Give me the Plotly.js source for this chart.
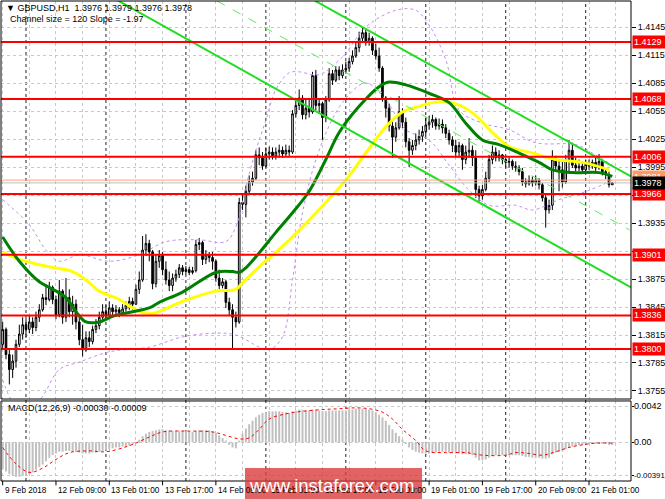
<!DOCTYPE html>
<html><head><meta charset="utf-8">
<script src="https://cdn.plot.ly/plotly-3.0.1.min.js"></script>
<style>html,body{margin:0;padding:0;background:#fff}#chart{width:665px;height:499px}</style>
</head><body><div id="chart"></div>
<script>
const symbol = 'GBPUSD,H1';
const channelInfo = 'Channel size = 120 Slope = -1.97';
const macdName = 'MACD(12,26,9)';

const open = [1.3805,1.3821,1.3794,1.3778,1.3787,1.3805,1.3816,1.3826,1.3821,1.3829,
1.3823,1.3834,1.3842,1.3855,1.3853,1.3866,1.3853,1.3837,1.3862,1.3834,
1.3855,1.3840,1.3848,1.3829,1.3810,1.3799,1.3812,1.3808,1.3821,1.3825,
1.3834,1.3840,1.3836,1.3844,1.3840,1.3842,1.3839,1.3843,1.3847,1.3851,
1.3848,1.3864,1.3874,1.3906,1.3913,1.3904,1.3870,1.3894,1.3900,1.3885,
1.3874,1.3868,1.3876,1.3880,1.3887,1.3883,1.3885,1.3882,1.3884,1.3912,
1.3914,1.3896,1.3901,1.3898,1.3894,1.3876,1.3868,1.3872,1.3850,1.3842,
1.3834,1.3829,1.3957,1.3955,1.3969,1.3979,1.3983,1.4008,1.4005,1.3996,
1.4009,1.4011,1.4007,1.4011,1.4013,1.4009,1.4013,1.4011,1.4052,1.4061,
1.4069,1.4051,1.4058,1.4054,1.4093,1.4061,1.4063,1.4048,1.4067,1.4095,
1.4088,1.4099,1.4093,1.4099,1.4101,1.4108,1.4114,1.4123,1.4133,1.4139,
1.4129,1.4133,1.4120,1.4114,1.4101,1.4069,1.4058,1.4039,1.4027,1.4037,
1.4054,1.4043,1.4022,1.4013,1.4018,1.4024,1.4028,1.4033,1.4040,1.4043,
1.4046,1.4039,1.4041,1.4037,1.4031,1.4024,1.4018,1.4011,1.4018,1.4003,
1.4011,1.4013,1.4005,1.3971,1.3964,1.3971,1.3983,1.4003,1.4011,1.4005,
1.4008,1.4003,1.4000,1.4001,1.3996,1.3994,1.3990,1.3979,1.3977,1.3981,
1.3978,1.3981,1.3976,1.3962,1.3949,1.3954,1.4003,1.3996,1.3992,1.3979,
1.4003,1.4013,1.3997,1.3994,1.3996,1.3992,1.3998,1.3996,1.4000,1.3994,
1.4001,1.3990,1.3987,1.3976];
const high = [1.3829,1.3823,1.3799,1.3794,1.3810,1.3826,1.3834,1.3832,1.3836,1.3834,
1.3840,1.3848,1.3859,1.3869,1.3872,1.3868,1.3857,1.3874,1.3864,1.3876,
1.3864,1.3857,1.3853,1.3834,1.3826,1.3819,1.3819,1.3825,1.3832,1.3840,
1.3848,1.3847,1.3851,1.3848,1.3847,1.3845,1.3848,1.3851,1.3856,1.3855,
1.3869,1.3883,1.3921,1.3923,1.3917,1.3906,1.3901,1.3906,1.3904,1.3894,
1.3883,1.3881,1.3885,1.3891,1.3890,1.3889,1.3888,1.3888,1.3917,1.3919,
1.3916,1.3906,1.3904,1.3904,1.3896,1.3885,1.3876,1.3874,1.3855,1.3848,
1.3840,1.3962,1.3965,1.3975,1.3986,1.3990,1.4013,1.4016,1.4011,1.4016,
1.4017,1.4016,1.4016,1.4019,1.4017,1.4019,1.4018,1.4056,1.4067,1.4078,
1.4072,1.4067,1.4069,1.4097,1.4099,1.4067,1.4065,1.4071,1.4101,1.4099,
1.4103,1.4103,1.4105,1.4108,1.4112,1.4120,1.4129,1.4140,1.4145,1.4142,
1.4139,1.4135,1.4127,1.4123,1.4103,1.4071,1.4063,1.4046,1.4043,1.4071,
1.4058,1.4048,1.4026,1.4024,1.4031,1.4035,1.4039,1.4048,1.4050,1.4051,
1.4048,1.4047,1.4046,1.4041,1.4035,1.4028,1.4024,1.4022,1.4020,1.4018,
1.4026,1.4018,1.4013,1.3975,1.3976,1.3990,1.4008,1.4018,1.4016,1.4013,
1.4009,1.4005,1.4005,1.4003,1.4001,1.3997,1.3994,1.3983,1.3986,1.3985,
1.3986,1.3983,1.3978,1.3965,1.3960,1.4013,1.4007,1.4003,1.4001,1.4008,
1.4024,1.4021,1.4005,1.4003,1.4000,1.4003,1.4003,1.4003,1.4005,1.4009,
1.4003,1.3994,1.3990,1.3979];
const low = [1.3799,1.3789,1.3762,1.3769,1.3780,1.3802,1.3810,1.3812,1.3817,1.3816,
1.3819,1.3829,1.3840,1.3847,1.3851,1.3848,1.3832,1.3834,1.3827,1.3829,
1.3834,1.3826,1.3821,1.3804,1.3792,1.3797,1.3802,1.3805,1.3817,1.3821,
1.3829,1.3832,1.3834,1.3836,1.3836,1.3834,1.3837,1.3840,1.3842,1.3842,
1.3847,1.3859,1.3872,1.3900,1.3894,1.3864,1.3866,1.3887,1.3879,1.3869,
1.3862,1.3862,1.3872,1.3876,1.3879,1.3880,1.3879,1.3880,1.3882,1.3906,
1.3890,1.3891,1.3893,1.3885,1.3872,1.3864,1.3865,1.3844,1.3836,1.3799,
1.3823,1.3827,1.3949,1.3941,1.3966,1.3975,1.3981,1.3997,1.3992,1.3994,
1.4003,1.4003,1.4003,1.4005,1.4005,1.4007,1.4007,1.4009,1.4048,1.4056,
1.4046,1.4046,1.4048,1.4052,1.4056,1.4052,1.4024,1.4043,1.4065,1.4083,
1.4086,1.4088,1.4090,1.4095,1.4097,1.4105,1.4112,1.4118,1.4129,1.4125,
1.4125,1.4115,1.4110,1.4097,1.4065,1.4048,1.4033,1.4005,1.4022,1.4035,
1.4037,1.4016,1.3995,1.4008,1.4013,1.4019,1.4022,1.4028,1.4035,1.4037,
1.4035,1.4035,1.4031,1.4026,1.4019,1.4011,1.4005,1.4005,1.3992,1.3998,
1.4005,1.3996,1.3962,1.3958,1.3960,1.3969,1.3979,1.3998,1.4001,1.4001,
1.3998,1.3994,1.3994,1.3992,1.3990,1.3986,1.3975,1.3973,1.3975,1.3974,
1.3975,1.3971,1.3958,1.3930,1.3945,1.3949,1.3990,1.3969,1.3973,1.3977,
1.3990,1.3994,1.3990,1.3990,1.3988,1.3990,1.3992,1.3993,1.3990,1.3992,
1.3986,1.3982,1.3973,1.3976];
const close = [1.3821,1.3794,1.3778,1.3787,1.3805,1.3816,1.3826,1.3821,1.3829,1.3823,
1.3834,1.3842,1.3855,1.3853,1.3866,1.3853,1.3837,1.3862,1.3834,1.3855,
1.3840,1.3848,1.3829,1.3810,1.3799,1.3812,1.3808,1.3821,1.3825,1.3834,
1.3840,1.3836,1.3844,1.3840,1.3842,1.3839,1.3843,1.3847,1.3851,1.3848,
1.3864,1.3874,1.3906,1.3913,1.3904,1.3870,1.3894,1.3900,1.3885,1.3874,
1.3868,1.3876,1.3880,1.3887,1.3883,1.3885,1.3882,1.3884,1.3912,1.3914,
1.3896,1.3901,1.3898,1.3894,1.3876,1.3868,1.3872,1.3850,1.3842,1.3834,
1.3829,1.3957,1.3955,1.3969,1.3979,1.3983,1.4008,1.4005,1.3996,1.4009,
1.4011,1.4007,1.4011,1.4013,1.4009,1.4013,1.4011,1.4052,1.4061,1.4069,
1.4051,1.4058,1.4054,1.4093,1.4061,1.4063,1.4048,1.4067,1.4095,1.4088,
1.4099,1.4093,1.4099,1.4101,1.4108,1.4114,1.4123,1.4133,1.4139,1.4129,
1.4133,1.4120,1.4114,1.4101,1.4069,1.4058,1.4039,1.4027,1.4037,1.4054,
1.4043,1.4022,1.4013,1.4018,1.4024,1.4028,1.4033,1.4040,1.4043,1.4046,
1.4039,1.4041,1.4037,1.4031,1.4024,1.4018,1.4011,1.4018,1.4003,1.4011,
1.4013,1.4005,1.3971,1.3964,1.3971,1.3983,1.4003,1.4011,1.4005,1.4008,
1.4003,1.4000,1.4001,1.3996,1.3994,1.3990,1.3979,1.3977,1.3981,1.3978,
1.3981,1.3976,1.3962,1.3949,1.3954,1.4003,1.3996,1.3992,1.3979,1.4003,
1.4013,1.3997,1.3994,1.3996,1.3992,1.3998,1.3996,1.4000,1.3994,1.4001,
1.3990,1.3987,1.3976,1.3978];

// moving averages (bar index, price)
const maGreenX = [0,5,11,14,19,22,25,29,33,39,44,47,54,64,69,71,73,77,82,87,92,97,101,107,113,116,121,128,134,139,144,149,155,161,165,171,179,183];
const maGreenY = [1.3920,1.3894,1.3872,1.3866,1.3855,1.3840,1.3829,1.3829,1.3835,1.3840,1.3844,1.3850,1.3861,1.3882,1.3883,1.3882,1.3887,1.3903,1.3925,1.3946,1.3969,1.4003,1.4032,1.4060,1.4081,1.4086,1.4083,1.4074,1.4064,1.4042,1.4024,1.4019,1.4010,1.4000,1.3992,1.3989,1.3989,1.3985];
const maYellowX = [0,5,14,21,25,29,35,39,42,45,54,64,70,72,77,84,93,103,109,115,120,125,129,135,141,147,152,159,166,174,182];
const maYellowY = [1.3904,1.3896,1.3888,1.3883,1.3874,1.3862,1.3853,1.3844,1.3839,1.3838,1.3851,1.3862,1.3864,1.3871,1.3888,1.3910,1.3942,1.3981,1.4010,1.4038,1.4054,1.4060,1.4064,1.4064,1.4053,1.4032,1.4017,1.4010,1.4003,1.4000,1.3992];

// Bollinger envelopes
const bbUpX = [0,8,13,17,23,32,41,49,59,67,70,73,76,79,82,86,89,95,102,109,118,124,128,133,137,144,152,160,172,177,183];
const bbUpY = [1.3960,1.3933,1.3906,1.3894,1.3901,1.3894,1.3901,1.3915,1.3917,1.3915,1.3931,1.3974,1.4013,1.4045,1.4078,1.4096,1.4097,1.4094,1.4113,1.4145,1.4163,1.4163,1.4147,1.4110,1.4056,1.4042,1.4035,1.4021,1.4019,1.4010,1.3997];
const bbLoX = [0,5,11,17,23,32,44,54,64,70,77,80,84,87,90,95,102,109,115,121,128,134,140,146,154,159,167,176,183];
const bbLoY = [1.3767,1.3735,1.3745,1.3778,1.3786,1.3797,1.3802,1.3813,1.3817,1.3815,1.3802,1.3799,1.3813,1.3874,1.3946,1.4013,1.4064,1.4085,1.4067,1.4035,1.4024,1.3997,1.3970,1.3954,1.3954,1.3949,1.3960,1.3970,1.3981];

// regression channel (start bar/price, end bar/price)
const chanUpper = {x:[93.8,188.6], y:[1.4173,1.3985]};
const chanMiddle = {x:[64.3,188.2], y:[1.4173,1.39275]};
const chanLower = {x:[34.3,188.6], y:[1.4174,1.3866]};

const levels = [1.4129,1.4068,1.4006,1.3966,1.3901,1.3836,1.3800];
const askPrice = 1.3981;
const bidPrice = 1.3978;
const priceTicks = [1.4145,1.4115,1.4085,1.4055,1.4025,1.3995,1.3965,1.3935,1.3905,1.3875,1.3845,1.3815,1.3785,1.3755];
const hiddenTicks = [1.3965,1.3905]; // covered by level labels in the reference

const macdHist = [-0.0031,-0.0034,-0.0037,-0.0039,-0.0040,-0.0040,-0.0039,-0.0039,-0.0037,-0.0035,
-0.0032,-0.0029,-0.0026,-0.0022,-0.0018,-0.0015,-0.0013,-0.0011,-0.0011,-0.0010,
-0.0010,-0.0011,-0.0011,-0.0012,-0.0013,-0.0013,-0.0013,-0.0012,-0.0012,-0.0011,
-0.0010,-0.0009,-0.0008,-0.0007,-0.0006,-0.0006,-0.0005,-0.0005,-0.0004,-0.0002,
0.0000,0.0003,0.0007,0.0010,0.0012,0.0013,0.0014,0.0015,0.0015,0.0014,
0.0014,0.0013,0.0013,0.0013,0.0013,0.0013,0.0013,0.0012,0.0013,0.0014,
0.0014,0.0014,0.0014,0.0013,0.0011,0.0008,0.0005,0.0002,-0.0003,-0.0006,
-0.0007,0.0002,0.0010,0.0016,0.0021,0.0025,0.0029,0.0032,0.0034,0.0035,
0.0036,0.0036,0.0036,0.0036,0.0035,0.0035,0.0034,0.0036,0.0037,0.0038,
0.0038,0.0037,0.0037,0.0038,0.0038,0.0037,0.0036,0.0036,0.0037,0.0037,
0.0037,0.0037,0.0037,0.0037,0.0038,0.0038,0.0039,0.0039,0.0039,0.0039,
0.0038,0.0037,0.0035,0.0032,0.0029,0.0025,0.0020,0.0015,0.0011,0.0007,
0.0003,-0.0002,-0.0006,-0.0009,-0.0011,-0.0012,-0.0013,-0.0013,-0.0013,-0.0012,
-0.0012,-0.0011,-0.0011,-0.0011,-0.0012,-0.0012,-0.0013,-0.0013,-0.0014,-0.0014,
-0.0014,-0.0015,-0.0018,-0.0021,-0.0021,-0.0020,-0.0018,-0.0016,-0.0015,-0.0015,
-0.0015,-0.0015,-0.0015,-0.0015,-0.0015,-0.0015,-0.0016,-0.0017,-0.0017,-0.0018,
-0.0018,-0.0018,-0.0019,-0.0019,-0.0018,-0.0014,-0.0012,-0.0011,-0.0010,-0.0008,
-0.0006,-0.0005,-0.0004,-0.0003,-0.0003,-0.0002,-0.0002,-0.0002,-0.0002,-0.0002,
-0.0002,-0.0002,-0.0003,-0.0003];
const sigX = [0,4,8,12,16,20,26,31,38,44,48,56,63,67,71,74,77,80,85,90,96,101,106,110,114,117,120,124,127,133,139,144,151,154,158,162,166,170,174,178,183];
const sigY = [-0.0006,-0.0025,-0.0035,-0.0030,-0.0020,-0.0012,-0.0010,-0.0011,-0.0004,0.0006,0.0012,0.0013,0.0012,0.0008,0.0004,0.0005,0.0015,0.0027,0.0033,0.0036,0.0038,0.0039,0.0040,0.0039,0.0035,0.0027,0.0015,0.0002,-0.0010,-0.0012,-0.0012,-0.0015,-0.0015,-0.0012,-0.0013,-0.0015,-0.0011,-0.0006,-0.0003,-0.0001,-0.00009];
const macdTicks = [0.0042,0,-0.00391];
const macdTickText = ['0.0042','0.00','-0.00391'];
const macdTickSize = [9,9,7.8];

const xLabelBars = [0,16,32,48,64,80,96,112,128,144,160,176];
const xLabels = ['9 Feb 2018','12 Feb 09:00','13 Feb 01:00','13 Feb 17:00','14 Feb 09:00','15 Feb 01:00','15 Feb 17:00','16 Feb 09:00','19 Feb 01:00','19 Feb 17:00','20 Feb 09:00','21 Feb 01:00'];
const daySeparators = [7,31,55,79,103,127,151,175];
const gridBars = [0,8,16,24,32,40,48,56,64,72,80,88,96,104,112,120,128,136,144,152,160,168,176,184];

const FONT = 'Liberation Sans, Arial, DejaVu Sans, sans-serif';
const bars = open.map((_, i) => i);
const mainDom = [0.1708, 1];
const macdDom = [0, 0.1667];

const traces = [
  {type:'candlestick', x:bars, open:open, high:high, low:low, close:close, xaxis:'x', yaxis:'y',
   increasing:{line:{color:'#000000', width:1}, fillcolor:'#ffffff'},
   decreasing:{line:{color:'#000000', width:1}, fillcolor:'#000000'},
   whiskerwidth:0, hoverinfo:'skip', showlegend:false},
  {type:'scatter', mode:'lines', x:bbUpX, y:bbUpY, line:{color:'#c58cf0', width:1, dash:'dot', shape:'spline'}, xaxis:'x', yaxis:'y', hoverinfo:'skip', showlegend:false},
  {type:'scatter', mode:'lines', x:bbLoX, y:bbLoY, line:{color:'#c58cf0', width:1, dash:'dot', shape:'spline'}, xaxis:'x', yaxis:'y', hoverinfo:'skip', showlegend:false},
  {type:'scatter', mode:'lines', x:maYellowX, y:maYellowY, line:{color:'#ffff00', width:3, shape:'spline'}, xaxis:'x', yaxis:'y', hoverinfo:'skip', showlegend:false},
  {type:'scatter', mode:'lines', x:maGreenX, y:maGreenY, line:{color:'#008000', width:3, shape:'spline'}, xaxis:'x', yaxis:'y', hoverinfo:'skip', showlegend:false},
  {type:'scatter', mode:'lines', x:chanUpper.x, y:chanUpper.y, line:{color:'#22dd22', width:2}, xaxis:'x', yaxis:'y', hoverinfo:'skip', showlegend:false},
  {type:'scatter', mode:'lines', x:chanMiddle.x, y:chanMiddle.y, line:{color:'#55ee55', width:1, dash:'dash'}, xaxis:'x', yaxis:'y', hoverinfo:'skip', showlegend:false},
  {type:'scatter', mode:'lines', x:chanLower.x, y:chanLower.y, line:{color:'#22dd22', width:2}, xaxis:'x', yaxis:'y', hoverinfo:'skip', showlegend:false},
  {type:'bar', x:bars, y:macdHist, marker:{color:'#c0c0c0', line:{width:0}}, xaxis:'x', yaxis:'y2', hoverinfo:'skip', showlegend:false},
  {type:'scatter', mode:'lines', x:sigX, y:sigY, line:{color:'#ff0000', width:1, dash:'dot', shape:'spline'}, xaxis:'x', yaxis:'y2', hoverinfo:'skip', showlegend:false}
];

const shapes = [];
daySeparators.forEach(b => shapes.push({type:'line', xref:'x', yref:'paper', x0:b, x1:b, y0:0, y1:1, layer:'below', line:{color:'#222222', width:1, dash:'dot'}}));
levels.forEach(l => shapes.push({type:'line', xref:'paper', yref:'y', x0:0, x1:1, y0:l, y1:l, line:{color:'#ff0000', width:2}}));
shapes.push({type:'line', xref:'paper', yref:'y', x0:0, x1:1, y0:askPrice, y1:askPrice, line:{color:'#ffa07a', width:1}});
shapes.push({type:'line', xref:'paper', yref:'y', x0:0, x1:1, y0:bidPrice, y1:bidPrice, line:{color:'#c0c0c0', width:1}});
xLabelBars.forEach(b => shapes.push({type:'line', xref:'x', yref:'paper', x0:b, x1:b, y0:0, y1:-0.009, line:{color:'#000', width:1}}));
shapes.push({type:'rect', xref:'paper', yref:'paper', x0:0, x1:1, y0:mainDom[0], y1:mainDom[1], line:{color:'#000', width:1}, fillcolor:'rgba(0,0,0,0)'});
shapes.push({type:'rect', xref:'paper', yref:'paper', x0:0, x1:1, y0:macdDom[0], y1:macdDom[1], line:{color:'#000', width:1}, fillcolor:'rgba(0,0,0,0)'});
// watermark box
shapes.push({type:'rect', xref:'paper', yref:'paper', x0:0.3873, x1:0.6683, y0:-0.0375, y1:0.027, line:{width:0}, fillcolor:'rgba(218,60,60,0.8)'});

const annotations = [];
const last = open.length - 1;
annotations.push({xref:'paper', yref:'paper', x:0.005, y:0.985, xanchor:'left', yanchor:'middle', showarrow:false,
  text:'\u25BC ' + symbol + '  ' + open[last].toFixed(4) + ' ' + high[last].toFixed(4) + ' ' + low[last].toFixed(4) + ' ' + close[last].toFixed(4),
  font:{family:FONT, size:9, color:'#000'}});
annotations.push({xref:'paper', yref:'paper', x:0.011, y:0.9625, xanchor:'left', yanchor:'middle', showarrow:false,
  text:channelInfo, font:{family:FONT, size:9, color:'#000'}});
annotations.push({xref:'paper', yref:'paper', x:0.008, y:0.152, xanchor:'left', yanchor:'middle', showarrow:false,
  text:macdName + ' ' + macdHist[last].toFixed(5) + ' ' + sigY[sigY.length-1].toFixed(5), font:{family:FONT, size:9, color:'#000'}});
xLabelBars.forEach((b, i) => annotations.push({xref:'x', yref:'paper', x:b, y:-0.019, xanchor:'left', yanchor:'middle', xshift:0, showarrow:false,
  text:xLabels[i], font:{family:FONT, size:8.2, color:'#000'}}));
macdTicks.forEach((v, i) => annotations.push({xref:'paper', yref:'y2', x:1, y:v, xanchor:'left', yanchor:'middle', xshift:1, showarrow:false,
  text:macdTickText[i], font:{family:FONT, size:macdTickSize[i], color:'#000'}}));
levels.forEach(l => annotations.push({xref:'paper', yref:'y', x:1, y:l, xanchor:'left', yanchor:'middle', xshift:1, showarrow:false,
  text:l.toFixed(4), bgcolor:'#ff0000', borderpad:1, width:31, align:'left', font:{family:FONT, size:9, color:'#ffffff'}}));
annotations.push({xref:'paper', yref:'y', x:1, y:askPrice, xanchor:'left', yanchor:'middle', xshift:1, yshift:3, showarrow:false,
  text:askPrice.toFixed(4), bgcolor:'#ff9966', borderpad:1, width:31, align:'left', font:{family:FONT, size:9, color:'#ffffff'}});
annotations.push({xref:'paper', yref:'y', x:1, y:bidPrice, xanchor:'left', yanchor:'middle', xshift:1, showarrow:false,
  text:bidPrice.toFixed(4), bgcolor:'#000000', borderpad:1, width:31, align:'left', font:{family:FONT, size:9, color:'#ffffff'}});
annotations.push({xref:'paper', yref:'paper', x:0.5254, y:-0.009, xanchor:'center', yanchor:'middle', showarrow:false,
  text:'www.instaforex.com', font:{family:FONT, size:18.5, color:'#ffffff'}});

const layout = {
  width:665, height:499,
  margin:{l:1, r:34, t:1, b:18},
  paper_bgcolor:'#ffffff', plot_bgcolor:'#ffffff',
  showlegend:false, bargap:0.4,
  font:{family:FONT, size:9, color:'#000'},
  xaxis:{domain:[0,1], range:[-0.5,188.6], anchor:'y2', tickvals:gridBars, showticklabels:false, ticks:'',
         showgrid:true, gridcolor:'#c8c8c8', griddash:'dot', gridwidth:1, zeroline:false, showline:false,
         rangeslider:{visible:false}, fixedrange:true},
  yaxis:{domain:mainDom, range:[1.37464,1.41729], anchor:'x', side:'right', tickvals:priceTicks,
         ticktext:priceTicks.map(v => hiddenTicks.includes(v) ? '' : v.toFixed(4)), ticks:'outside', ticklen:4, tickcolor:'#000',
         tickfont:{family:FONT, size:9, color:'#000'}, showgrid:true, gridcolor:'#c8c8c8', griddash:'dot',
         zeroline:false, showline:false, fixedrange:true},
  yaxis2:{domain:macdDom, range:[-0.0045,0.0048], anchor:'x', side:'right', tickvals:macdTicks, showticklabels:false,
          ticks:'outside', ticklen:2, tickcolor:'#000',
          showgrid:true, gridcolor:'#c8c8c8', griddash:'dot', zeroline:false, showline:false, fixedrange:true},
  shapes:shapes, annotations:annotations
};

Plotly.newPlot('chart', traces, layout, {staticPlot:true, displayModeBar:false});
</script>
</body></html>
